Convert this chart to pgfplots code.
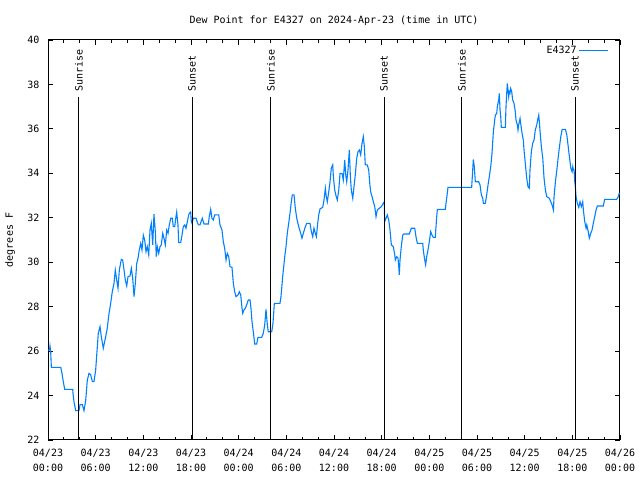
\documentclass[border=0pt]{standalone}
\usepackage{pgfplots}
\pgfplotsset{compat=1.18}
\usepackage{fontspec}
\setmainfont{DejaVu Sans Mono}
\definecolor{dew}{RGB}{0,128,255}
\begin{document}
\begin{tikzpicture}[font=\fontsize{10bp}{12bp}\selectfont]
\useasboundingbox (-48bp,-40bp) rectangle (592bp,440bp);
\begin{axis}[
  at={(0,0)}, anchor=south west,
  scale only axis, width=572bp, height=400bp,
  xmin=0, xmax=72, ymin=22, ymax=40,
  xtick={0,6,...,72},
  xticklabels={{04/23\\00:00},{04/23\\06:00},{04/23\\12:00},{04/23\\18:00},{04/24\\00:00},{04/24\\06:00},{04/24\\12:00},{04/24\\18:00},{04/25\\00:00},{04/25\\06:00},{04/25\\12:00},{04/25\\18:00},{04/26\\00:00}},
  xticklabel style={align=center, font=\fontsize{10bp}{15bp}\selectfont, yshift=-6bp},
  yticklabel style={xshift=-5bp},
  minor x tick num=2,
  ytick={22,24,...,40},
  tick align=inside,
  major tick length=5bp, minor tick length=3bp,
  every tick/.append style={black, line width=0.8bp},
  axis line style={line width=1bp},
  /pgf/number format/assume math mode=true,
  title={Dew Point for E4327 on 2024-Apr-23 (time in UTC)},
  title style={at={(0.5,1)}, anchor=south, yshift=5bp},
  ylabel={degrees F},
  ylabel style={at={(axis description cs:-0.066,0.5)}, anchor=center},
  legend style={draw=none, fill=none, at={(1,1)}, anchor=north east, xshift=-8bp, yshift=-2bp, font=\fontsize{10bp}{12bp}\selectfont},
  legend plot pos=right,
  legend image code/.code={\draw[#1] (0bp,0bp) -- (29bp,0bp);},
]
\addplot[dew, line width=1.1bp] coordinates {
(0.00,26.05)(0.19,26.05)(0.25,26.23)(0.34,25.97)(0.42,25.27)(1.60,25.27)(1.76,25.00)(1.89,24.70)(2.10,24.28)(3.11,24.28)
(3.15,24.10)(3.27,23.72)(3.49,23.32)(3.90,23.32)(4.03,23.59)(4.32,23.59)(4.53,23.32)(4.75,23.80)(4.95,24.70)(5.16,25.00)
(5.37,24.94)(5.58,24.63)(5.79,24.63)(6.00,25.15)(6.21,26.20)(6.33,26.80)(6.55,27.10)(6.71,26.65)(6.96,26.13)(7.26,26.65)
(7.46,27.03)(7.68,27.70)(7.89,28.15)(8.09,28.67)(8.31,29.05)(8.47,29.65)(8.65,29.20)(8.81,28.83)(8.98,29.65)(9.23,30.13)
(9.40,30.10)(9.57,29.65)(9.73,29.20)(9.91,28.93)(10.07,29.35)(10.32,29.38)(10.49,29.73)(10.66,29.28)(10.83,28.45)(10.99,29.05)
(11.17,29.95)(11.33,30.18)(11.49,30.55)(11.67,30.85)(11.83,30.55)(12.00,31.22)(12.17,31.00)(12.34,30.47)(12.50,30.70)(12.68,30.33)
(12.84,31.45)(13.00,31.75)(13.18,30.78)(13.34,32.16)(13.51,31.38)(13.63,30.25)(13.76,30.70)(13.94,30.40)(14.10,30.70)(14.26,30.78)
(14.44,31.30)(14.60,31.08)(14.77,30.78)(14.94,31.45)(15.11,31.30)(15.27,31.68)(15.45,31.98)(15.65,31.98)(15.77,31.60)(15.95,31.60)
(16.11,32.05)(16.20,32.26)(16.36,31.68)(16.45,30.88)(16.70,30.88)(16.87,31.22)(17.03,31.60)(17.21,31.68)(17.37,31.53)(17.54,31.83)
(17.71,32.13)(17.79,32.20)(17.96,32.26)(18.04,31.83)(18.13,31.75)(18.29,31.98)(18.63,31.98)(18.92,31.68)(19.13,31.68)(19.42,31.98)
(19.64,31.72)(20.18,31.72)(20.30,32.05)(20.48,32.38)(20.64,31.98)(20.81,31.90)(20.98,32.13)(21.49,32.13)(21.65,31.68)(21.90,31.45)
(22.07,30.92)(22.24,30.63)(22.41,30.10)(22.57,30.40)(22.75,30.25)(22.91,29.80)(23.16,29.77)(23.33,29.05)(23.50,28.67)(23.67,28.45)
(23.92,28.53)(24.08,28.67)(24.26,28.53)(24.42,27.93)(24.51,27.70)(24.67,27.85)(24.84,27.93)(25.01,28.08)(25.21,28.30)(25.43,28.30)
(25.55,27.93)(25.68,27.33)(25.84,26.87)(26.02,26.32)(26.27,26.32)(26.43,26.62)(26.90,26.62)(27.10,26.80)(27.28,27.18)(27.44,27.88)
(27.61,27.18)(27.73,26.87)(28.16,26.87)(28.32,27.25)(28.49,28.15)(29.20,28.15)(29.33,28.45)(29.54,29.35)(29.80,30.25)(29.96,30.70)
(30.12,31.30)(30.30,31.75)(30.46,32.20)(30.63,32.72)(30.75,33.03)(30.97,33.03)(31.13,32.43)(31.31,31.98)(31.56,31.60)(31.81,31.30)
(31.97,31.08)(32.14,31.30)(32.39,31.60)(32.57,31.75)(32.98,31.75)(33.15,31.38)(33.32,31.15)(33.48,31.53)(33.65,31.30)(33.78,31.15)
(33.95,31.75)(34.08,32.13)(34.24,32.40)(34.58,32.47)(34.74,32.80)(34.91,33.33)(35.03,32.95)(35.16,32.72)(35.34,33.17)(35.50,33.62)
(35.66,34.23)(35.84,34.38)(35.92,33.85)(36.09,33.25)(36.26,32.98)(36.42,32.80)(36.60,33.25)(36.76,34.00)(37.01,34.00)(37.17,33.70)
(37.35,34.60)(37.48,33.93)(37.60,33.62)(37.76,34.15)(37.93,35.05)(38.06,33.85)(38.18,33.25)(38.36,32.88)(38.52,33.40)(38.68,33.93)
(38.86,34.68)(39.02,34.97)(39.19,35.05)(39.36,34.83)(39.53,35.35)(39.69,35.65)(39.82,35.20)(39.94,34.38)(40.19,34.38)(40.37,34.15)
(40.50,33.55)(40.62,33.17)(40.79,32.95)(40.95,32.72)(41.13,32.50)(41.29,32.05)(41.45,32.35)(41.71,32.43)(41.96,32.50)(42.21,32.65)
(42.33,32.72)(42.38,31.83)(42.55,31.98)(42.71,32.13)(42.89,31.90)(43.05,31.45)(43.22,30.78)(43.47,30.70)(43.65,30.33)(43.72,30.10)
(43.90,30.25)(44.06,30.18)(44.15,29.80)(44.22,29.43)(44.31,30.10)(44.47,30.70)(44.65,31.22)(44.81,31.27)(45.48,31.27)(45.73,31.53)
(46.16,31.53)(46.32,31.15)(46.49,30.85)(47.17,30.85)(47.24,30.55)(47.42,30.10)(47.54,29.88)(47.67,30.25)(47.83,30.55)(48.00,30.92)
(48.17,31.38)(48.34,31.22)(48.50,31.12)(48.75,31.12)(48.84,31.60)(48.93,32.05)(49.01,32.38)(50.01,32.38)(50.10,32.65)(50.26,33.10)
(50.35,33.37)(53.33,33.37)(53.46,34.15)(53.54,34.63)(53.66,34.30)(53.79,33.62)(54.21,33.62)(54.38,33.48)(54.55,33.03)(54.72,32.88)
(54.80,32.65)(55.05,32.65)(55.22,33.03)(55.39,33.48)(55.55,33.85)(55.73,34.30)(55.89,34.90)(56.06,35.87)(56.23,36.40)(56.31,36.62)
(56.48,36.70)(56.56,37.00)(56.74,37.33)(56.81,37.60)(56.90,36.85)(56.99,36.55)(57.06,36.07)(57.57,36.07)(57.65,37.00)(57.74,37.60)
(57.82,38.05)(57.90,37.75)(57.99,37.45)(58.06,37.67)(58.15,37.60)(58.24,37.82)(58.37,37.67)(58.49,37.30)(58.66,37.15)(58.82,36.78)
(58.91,36.40)(59.08,36.18)(59.16,35.95)(59.25,36.18)(59.42,36.47)(59.58,36.03)(59.67,35.80)(59.83,35.50)(59.92,35.05)(60.08,34.45)
(60.26,33.78)(60.42,33.40)(60.59,33.33)(60.67,34.15)(60.84,34.97)(61.01,35.35)(61.18,35.50)(61.34,35.95)(61.52,36.18)(61.68,36.47)
(61.77,36.62)(61.85,36.32)(61.94,35.87)(62.10,35.20)(62.28,34.68)(62.44,33.78)(62.61,33.25)(62.78,32.95)(63.11,32.88)(63.29,32.72)
(63.45,32.58)(63.62,32.35)(63.70,32.95)(63.87,33.62)(64.05,34.15)(64.21,34.68)(64.38,35.20)(64.55,35.65)(64.72,35.98)(65.13,35.98)
(65.31,35.72)(65.46,35.27)(65.63,34.75)(65.81,34.23)(65.97,34.07)(66.06,34.30)(66.14,34.15)(66.22,34.15)(66.31,33.62)(66.38,33.40)
(66.47,32.95)(66.63,32.65)(66.81,32.47)(66.97,32.72)(67.14,32.50)(67.31,32.72)(67.39,32.35)(67.56,31.83)(67.73,31.53)(67.82,31.68)
(67.98,31.42)(68.14,31.08)(68.32,31.30)(68.48,31.45)(68.64,31.75)(68.82,32.05)(68.98,32.35)(69.15,32.53)(69.90,32.53)(70.07,32.83)
(71.58,32.83)(71.78,32.95)(71.91,33.10)(72.00,33.10)
};
\addlegendentry{E4327}
\addplot[black, line width=1bp, forget plot] coordinates {(3.90,22)(3.90,37.45)};
\addplot[black, line width=1bp, forget plot] coordinates {(18.13,22)(18.13,37.45)};
\addplot[black, line width=1bp, forget plot] coordinates {(28.07,22)(28.07,37.45)};
\addplot[black, line width=1bp, forget plot] coordinates {(42.30,22)(42.30,37.45)};
\addplot[black, line width=1bp, forget plot] coordinates {(52.11,22)(52.11,37.45)};
\addplot[black, line width=1bp, forget plot] coordinates {(66.34,22)(66.34,37.45)};
\node[rotate=90, anchor=west, inner sep=1bp] at (axis cs:3.90,37.62) {Sunrise};
\node[rotate=90, anchor=west, inner sep=1bp] at (axis cs:18.13,37.62) {Sunset};
\node[rotate=90, anchor=west, inner sep=1bp] at (axis cs:28.07,37.62) {Sunrise};
\node[rotate=90, anchor=west, inner sep=1bp] at (axis cs:42.30,37.62) {Sunset};
\node[rotate=90, anchor=west, inner sep=1bp] at (axis cs:52.11,37.62) {Sunrise};
\node[rotate=90, anchor=west, inner sep=1bp] at (axis cs:66.34,37.62) {Sunset};
\end{axis}
\end{tikzpicture}
\end{document}
